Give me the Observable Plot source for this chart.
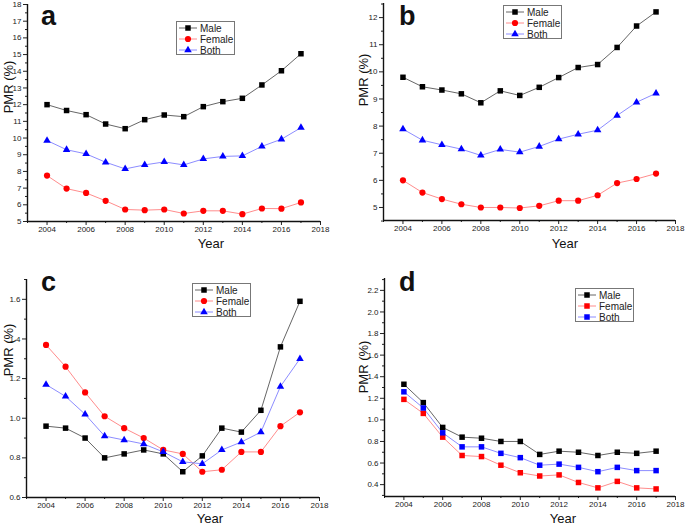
<!DOCTYPE html>
<html><head><meta charset="utf-8">
<script src="https://cdn.jsdelivr.net/npm/d3@7"></script>
<script src="https://cdn.jsdelivr.net/npm/@observablehq/plot@0.6"></script>
<style>
body{margin:0;background:#fff;}
#wrap{position:relative;width:685px;height:524px;overflow:hidden;font-family:"Liberation Sans",Arial,sans-serif;color:#111;}
.panel{position:absolute;}
.c{position:absolute;transform:translate(-50%,-50%);white-space:nowrap;line-height:1;}
.letter{position:absolute;font-weight:bold;font-size:27px;line-height:1;}
.leg{position:absolute;}
</style></head><body><div id="wrap"></div>
<script>
const years = [2004,2005,2006,2007,2008,2009,2010,2011,2012,2013,2014,2015,2016,2017];
const seriesNames = ["Male","Female","Both"];

const aMale   = [12.0,11.65,11.4,10.84,10.56,11.1,11.38,11.28,11.88,12.18,12.38,13.18,14.03,15.05];
const aFemale = [7.75,6.97,6.71,6.24,5.72,5.68,5.72,5.48,5.64,5.64,5.44,5.78,5.77,6.14];
const aBoth   = [9.85,9.3,9.05,8.55,8.15,8.39,8.57,8.39,8.75,8.9,8.93,9.5,9.93,10.62];

const bMale   = [9.8,9.45,9.33,9.19,8.86,9.3,9.13,9.43,9.79,10.16,10.27,10.9,11.69,12.21];
const bFemale = [6.0,5.55,5.31,5.12,5.0,5.0,4.98,5.06,5.25,5.25,5.45,5.9,6.05,6.25];
const bBoth   = [7.89,7.48,7.31,7.15,6.92,7.14,7.04,7.25,7.52,7.7,7.85,8.39,8.88,9.21];

const cMale   = [0.96,0.95,0.90,0.80,0.82,0.84,0.82,0.73,0.81,0.95,0.93,1.04,1.36,1.59];
const cFemale = [1.37,1.26,1.13,1.01,0.95,0.90,0.84,0.82,0.73,0.74,0.83,0.83,0.96,1.03];
const cBoth   = [1.17,1.11,1.02,0.91,0.89,0.87,0.83,0.78,0.77,0.84,0.88,0.93,1.16,1.30];

const dMale   = [1.33,1.16,0.93,0.84,0.83,0.80,0.80,0.68,0.71,0.70,0.67,0.70,0.69,0.71];
const dFemale = [1.19,1.06,0.84,0.67,0.66,0.58,0.51,0.48,0.49,0.42,0.37,0.43,0.37,0.36];
const dBoth   = [1.26,1.11,0.88,0.75,0.75,0.69,0.65,0.58,0.59,0.56,0.52,0.56,0.53,0.53];

const xMajor = [2004,2006,2008,2010,2012,2014,2016,2018];
const xMinor = [2003,2005,2007,2009,2011,2013,2015,2017];

const aYMajor = [5,6,7,8,9,10,11,12,13,14,15,16,17,18];
const aYMinor = [5.5,6.5,7.5,8.5,9.5,10.5,11.5,12.5,13.5,14.5,15.5,16.5,17.5];
const bYMajor = [5,6,7,8,9,10,11,12];
const bYMinor = [4.5,5.5,6.5,7.5,8.5,9.5,10.5,11.5,12.5];
const cYMajor = [0.6,0.8,1.0,1.2,1.4,1.6];
const cYMinor = [0.7,0.9,1.1,1.3,1.5,1.7];
const dYMajor = [0.4,0.6,0.8,1.0,1.2,1.4,1.6,1.8,2.0,2.2];
const dYMinor = [0.3,0.5,0.7,0.9,1.1,1.3,1.5,1.7,1.9,2.1,2.3];

const markerColors = {Male:"#000000", Female:"#ff0000", Both:"#0000ff"};
const lineColors = {Male:"#555555", Female:"#ff7f7f", Both:"#7f7fff"};

const panels = [
  {letter:"a", vals:[aMale,aFemale,aBoth], symbols:["square","circle","triangle"], yDomain:[5,18], yMajor:aYMajor, yMinor:aYMinor, fmt:d=>String(d),
   left:0, top:0, width:342, height:262, mt:4, mr:22, mb:41, ml:27,
   letterPos:[41,3], yLab:[8,87], xLab:[211,243], legend:[176,21]},
  {letter:"b", vals:[bMale,bFemale,bBoth], symbols:["square","circle","triangle"], yDomain:[4.52,12.52], yMajor:bYMajor, yMinor:bYMinor, fmt:d=>String(d),
   left:340, top:0, width:345, height:262, mt:3, mr:10, mb:42, ml:43,
   letterPos:[399,3], yLab:[363,80], xLab:[565,243], legend:[503,5]},
  {letter:"c", vals:[cMale,cFemale,cBoth], symbols:["square","circle","triangle"], yDomain:[0.6,1.7], yMajor:cYMajor, yMinor:cYMinor, fmt:d=>d.toFixed(1),
   left:0, top:262, width:340, height:262, mt:17, mr:21, mb:27, ml:26,
   letterPos:[41,269], yLab:[8,350], xLab:[210,517.5], legend:[192,283]},
  {letter:"d", vals:[dMale,dFemale,dBoth], symbols:["square","square","square"], yDomain:[0.29,2.31], yMajor:dYMajor, yMinor:dYMinor, fmt:d=>d.toFixed(1),
   left:340, top:262, width:345, height:262, mt:16, mr:10, mb:28, ml:44,
   letterPos:[399,269], yLab:[363,367], xLab:[563,517.5], legend:[575,288]}
];

const symbolR = {square:3.1, circle:3.1, triangle:2.8};
const wrap = document.getElementById("wrap");

for (const p of panels) {
  const marks = [
    Plot.axisX({ticks:xMajor, tickSize:4, tickPadding:1, tickFormat:d=>String(d), label:null, fontSize:8}),
    Plot.axisX({ticks:xMinor, tickSize:2, tickFormat:()=>"", label:null}),
    Plot.axisY({ticks:p.yMajor, tickSize:4, tickPadding:2, tickFormat:p.fmt, label:null, fontSize:8}),
    Plot.axisY({ticks:p.yMinor, tickSize:2, tickFormat:()=>"", label:null}),
    Plot.ruleX([2003], {stroke:"#111", strokeWidth:1.4}),
    Plot.ruleY([p.yDomain[0]], {stroke:"#111", strokeWidth:1.4})
  ];
  seriesNames.forEach((name, i) => {
    const rows = years.map((y, j) => ({year:y, value:p.vals[i][j]}));
    marks.push(Plot.line(rows, {x:"year", y:"value", stroke:lineColors[name], strokeWidth:0.9}));
  });
  seriesNames.forEach((name, i) => {
    const rows = years.map((y, j) => ({year:y, value:p.vals[i][j]}));
    const sym = p.symbols[i];
    marks.push(Plot.dot(rows, {x:"year", y:"value", symbol:sym, r:symbolR[sym], fill:markerColors[name], stroke:"none"}));
  });
  const chart = Plot.plot({
    width:p.width, height:p.height,
    marginTop:p.mt, marginRight:p.mr, marginBottom:p.mb, marginLeft:p.ml,
    x:{domain:[2003,2018]}, y:{domain:p.yDomain},
    style:{fontFamily:'"Liberation Sans",Arial,sans-serif', fontSize:"8px", color:"#222", background:"transparent", overflow:"visible"},
    marks
  });
  const holder = document.createElement("div");
  holder.className = "panel";
  holder.style.left = p.left + "px"; holder.style.top = p.top + "px";
  holder.appendChild(chart);
  wrap.appendChild(holder);

  const L = document.createElement("div");
  L.className = "letter"; L.textContent = p.letter;
  L.style.left = p.letterPos[0] + "px"; L.style.top = p.letterPos[1] + "px";
  wrap.appendChild(L);

  const yl = document.createElement("div");
  yl.className = "c"; yl.textContent = "PMR (%)";
  yl.style.left = p.yLab[0] + "px"; yl.style.top = p.yLab[1] + "px";
  yl.style.fontSize = "13px"; yl.style.transform = "translate(-50%,-50%) rotate(-90deg)";
  wrap.appendChild(yl);

  const xl = document.createElement("div");
  xl.className = "c"; xl.textContent = "Year";
  xl.style.left = p.xLab[0] + "px"; xl.style.top = p.xLab[1] + "px";
  xl.style.fontSize = "13px";
  wrap.appendChild(xl);

  // legend
  const ns = "http://www.w3.org/2000/svg";
  const svg = document.createElementNS(ns, "svg");
  const lw = 59, lh = 34;
  svg.setAttribute("width", lw); svg.setAttribute("height", lh);
  svg.setAttribute("class", "leg");
  svg.style.left = p.legend[0] + "px"; svg.style.top = p.legend[1] + "px";
  const box = document.createElementNS(ns, "rect");
  box.setAttribute("x", 0.5); box.setAttribute("y", 0.5); box.setAttribute("width", lw - 1); box.setAttribute("height", lh - 1);
  box.setAttribute("fill", "#fff"); box.setAttribute("stroke", "#777"); box.setAttribute("stroke-width", 1);
  svg.appendChild(box);
  seriesNames.forEach((name, i) => {
    const cy = 7 + i * 11;
    const ln = document.createElementNS(ns, "line");
    ln.setAttribute("x1", 3); ln.setAttribute("x2", 21); ln.setAttribute("y1", cy); ln.setAttribute("y2", cy);
    ln.setAttribute("stroke", lineColors[name]); ln.setAttribute("stroke-width", 0.9);
    svg.appendChild(ln);
    const sym = p.symbols[i];
    const sh = document.createElementNS(ns, "path");
    const type = sym === "square" ? d3.symbolSquare : sym === "circle" ? d3.symbolCircle : d3.symbolTriangle;
    const r = symbolR[sym];
    sh.setAttribute("d", d3.symbol(type, Math.PI * r * r)());
    sh.setAttribute("transform", `translate(12,${cy})`);
    sh.setAttribute("fill", markerColors[name]);
    svg.appendChild(sh);
    const t = document.createElementNS(ns, "text");
    t.setAttribute("x", 24); t.setAttribute("y", cy + 3.5);
    t.setAttribute("font-size", "10"); t.setAttribute("fill", "#222");
    t.setAttribute("font-family", '"Liberation Sans",Arial,sans-serif');
    t.textContent = name;
    svg.appendChild(t);
  });
  wrap.appendChild(svg);
}
</script></body></html>
